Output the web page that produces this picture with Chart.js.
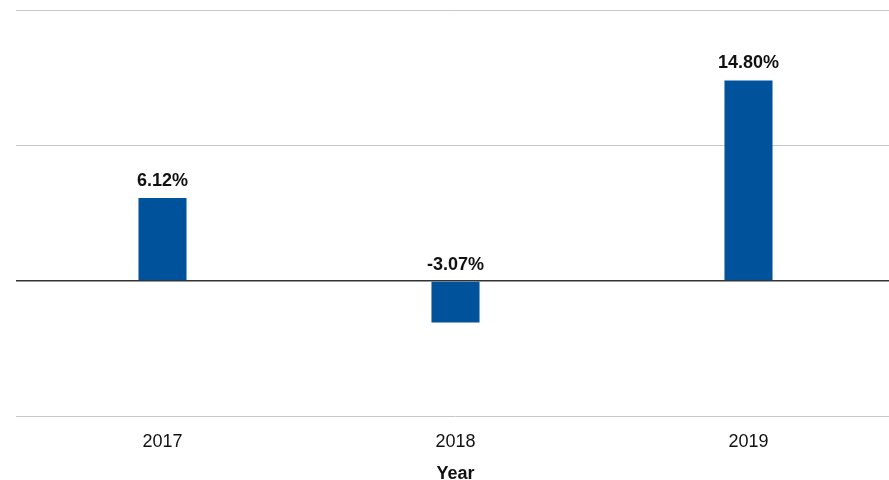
<!DOCTYPE html>
<html lang="en">
<head>
  <meta charset="UTF-8">
  <title>Annual Return</title>
  <script src="https://cdn.jsdelivr.net/npm/chart.js"></script>
  <style>
    body {
      margin: 0;
      background: white;
      overflow: hidden;
    }
    #wrap {
      width: 889px;
      height: 480px;
      overflow: hidden;
    }
  </style>
</head>
<body>

<div id="wrap">
  <canvas id="chartReturn" width="895" height="480"></canvas>
</div>

<script>
  const tahun = ["2017", "2018", "2019"];
  const nilaiReturn = [6.12, -3.07, 14.80];
  const labelReturn = ["6.12%", "-3.07%", "14.80%"];

  const fontUtama = "'Liberation Sans', Arial, sans-serif";

  // label di atas setiap batang
  const labelBatang = {
    id: "labelBatang",
    afterDatasetsDraw(chart) {
      const ctx = chart.ctx;
      const meta = chart.getDatasetMeta(0);
      ctx.save();
      ctx.font = "bold 18px " + fontUtama;
      ctx.fillStyle = "#111";
      ctx.textAlign = "center";
      ctx.textBaseline = "bottom";
      meta.data.forEach((bar, i) => {
        const atas = Math.min(bar.y, bar.base);
        ctx.fillText(labelReturn[i], bar.x, atas - 8);
      });
      ctx.restore();
    }
  };

  new Chart(document.getElementById("chartReturn"), {
    type: "bar",
    data: {
      labels: tahun,
      datasets: [{
        data: nilaiReturn,
        backgroundColor: "#00529B",
        barPercentage: 0.82,
        categoryPercentage: 0.2
      }]
    },
    options: {
      responsive: false,
      animation: false,
      layout: { padding: { left: 16, top: 10, right: 0, bottom: -3 } },
      plugins: {
        legend: { display: false },
        tooltip: { enabled: false }
      },
      scales: {
        x: {
          grid: { display: false, drawTicks: false },
          border: { display: false },
          ticks: {
            color: "#111",
            font: { family: fontUtama, size: 18 },
            padding: 15
          },
          title: {
            display: true,
            text: "Year",
            color: "#111",
            font: { family: fontUtama, size: 18, weight: "bold", lineHeight: 1 },
            padding: { top: -3, bottom: 0 }
          }
        },
        y: {
          min: -10,
          max: 20,
          border: { display: false },
          grid: {
            drawTicks: false,
            color: c => c.tick.value === 0 ? "#333" : "#c8c8c8",
            lineWidth: c => c.tick.value === 0 ? 1.5 : 1
          },
          ticks: { display: false, stepSize: 10 }
        }
      }
    },
    plugins: [labelBatang]
  });
</script>

</body>
</html>
